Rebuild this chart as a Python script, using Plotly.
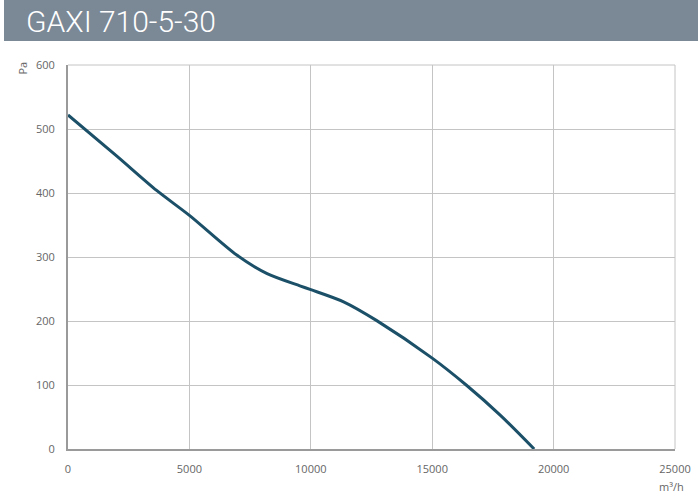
import plotly.graph_objects as go

# Data
flow = [0, 2000, 3650, 5000, 6950, 8200, 9550, 10000, 11350, 12700, 15000, 16400, 17800, 19200]
pressure = [522, 458, 404, 365, 303, 274, 255, 249, 230, 201, 142, 100, 53, 0]

x_ticks = [0, 5000, 10000, 15000, 20000, 25000]
y_ticks = [0, 100, 200, 300, 400, 500, 600]

title_text = "GAXI 710-5-30"
x_unit = "m³/h"
y_unit = "Pa"

W, H = 698, 500
ml, mr, mt, mb = 68, 23, 65, 51
pw, ph = W - ml - mr, H - mt - mb

def px_x(p):
    return (p - ml) / pw

def px_y(p):
    return (H - mb - p) / ph

fig = go.Figure()
fig.add_trace(go.Scatter(
    x=flow, y=pressure, mode="lines",
    line=dict(color="#1b5068", width=3, shape="spline", smoothing=0.8),
    hoverinfo="x+y", showlegend=False,
))

axis_font = dict(family="Open Sans, sans-serif", size=11, color="#666666")

fig.update_layout(
    width=W, height=H, autosize=False,
    margin=dict(l=ml, r=mr, t=mt, b=mb, autoexpand=False),
    paper_bgcolor="white", plot_bgcolor="white",
    xaxis=dict(range=[0, 25000], tickvals=x_ticks, ticktext=[str(v) for v in x_ticks],
               showgrid=True, gridcolor="#c4c4c4", gridwidth=1,
               showline=True, linecolor="#9a9a9a", linewidth=2,
               zeroline=False, tickfont=axis_font, ticks="outside", ticklen=9,
               tickcolor="rgba(0,0,0,0)", fixedrange=True, automargin=False),
    yaxis=dict(range=[0, 600], tickvals=y_ticks, ticktext=[str(v) for v in y_ticks],
               showgrid=True, gridcolor="#c4c4c4", gridwidth=1,
               showline=True, linecolor="#9a9a9a", linewidth=2,
               zeroline=False, tickfont=axis_font, ticks="outside", ticklen=9,
               tickcolor="rgba(0,0,0,0)", fixedrange=True, automargin=False),
    shapes=[
        dict(type="rect", xref="paper", yref="paper",
             x0=px_x(4), x1=px_x(W + 2), y0=px_y(41), y1=px_y(0),
             fillcolor="#7b8896", line=dict(width=0), layer="below"),
        dict(type="line", xref="paper", yref="paper", x0=0, x1=1, y0=1, y1=1,
             line=dict(color="#c4c4c4", width=1)),
        dict(type="line", xref="paper", yref="paper", x0=1, x1=1, y0=0, y1=1,
             line=dict(color="#c4c4c4", width=1)),
    ],
    annotations=[
        dict(text=title_text, xref="paper", yref="paper", x=px_x(24), y=px_y(21),
             xanchor="left", yanchor="middle", showarrow=False,
             font=dict(family="Roboto, sans-serif", size=30, color="white", weight=300)),
        dict(text=y_unit, xref="paper", yref="paper", x=px_x(22), y=px_y(60),
             xanchor="center", yanchor="top", showarrow=False, textangle=-90,
             font=dict(family="Open Sans, sans-serif", size=11, color="#666666")),
        dict(text=x_unit, xref="paper", yref="paper", x=px_x(686), y=px_y(486),
             xanchor="right", yanchor="middle", showarrow=False,
             font=dict(family="Open Sans, sans-serif", size=11, color="#666666")),
    ],
)

post = (
    "document.documentElement.style.overflow='hidden';"
    "document.body.style.margin='0';document.body.style.overflow='hidden';"
    "var gd=document.getElementById('{plot_id}');"
    "Plotly.relayout(gd,{width:%d,height:%d});" % (W, H)
)

fig.write_html("out.html", config={"displayModeBar": False, "responsive": False},
               post_script=post)
